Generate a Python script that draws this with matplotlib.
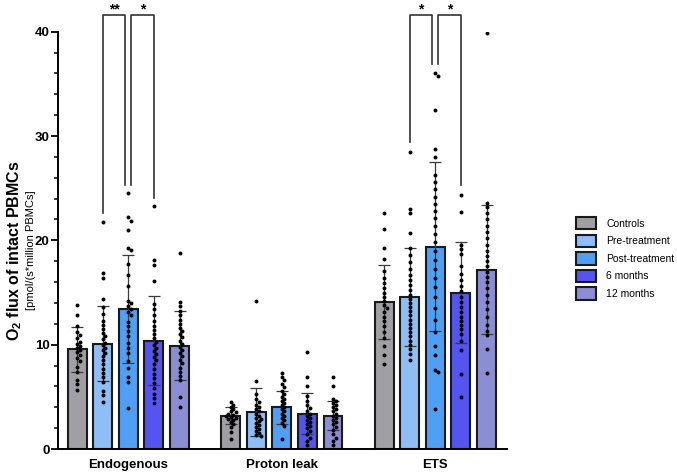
import matplotlib
matplotlib.use("Agg")
import matplotlib.pyplot as plt
from matplotlib.patches import Patch

plt.rcParams['font.family'] = ['Liberation Sans', 'DejaVu Sans']
plt.rcParams['mathtext.fontset'] = 'custom'
plt.rcParams['mathtext.bf'] = 'Liberation Sans:bold'
plt.rcParams['mathtext.rm'] = 'Liberation Sans'

groups = ["Endogenous", "Proton leak", "ETS"]
series = ["Controls", "Pre-treatment", "Post-treatment", "6 months", "12 months"]
colors = ["#a0a0a4", "#8fbdf6", "#4fa0f5", "#5454f0", "#8c8ed4"]

# bar heights (means) and SD per group, in series order
means = {
    "Endogenous": [9.55, 10.1, 13.4, 10.4, 9.9],
    "Proton leak": [3.2, 3.5, 4.0, 3.4, 3.2],
    "ETS": [14.05, 14.6, 19.4, 15.0, 17.2],
}
sds = {
    "Endogenous": [2.15, 3.6, 5.2, 4.3, 3.3],
    "Proton leak": [0.85, 2.3, 1.6, 2.0, 1.4],
    "ETS": [3.55, 4.7, 8.1, 4.8, 6.2],
}

# individual points
endo_controls = [13.8, 12.8, 11.8, 11.2, 10.9, 10.6, 10.3, 10.1, 9.9, 9.7, 9.5, 9.3, 9.0,
                 8.7, 8.4, 7.9, 7.4, 6.6, 6.2, 5.7]
endo_pre = [21.8, 16.9, 16.4, 14.4, 13.6, 12.9, 12.3, 11.9, 11.5, 11.1, 10.8, 10.5, 10.2,
            10.0, 9.7, 9.5, 9.2, 8.9, 8.5, 8.1, 7.7, 7.3, 6.9, 6.4, 5.6, 5.2, 4.5]
endo_post = [24.5, 22.2, 21.9, 21.0, 19.3, 19.1, 17.7, 16.7, 15.6, 14.2, 14.0, 13.7, 13.4,
             13.1, 12.8, 12.2, 11.8, 11.3, 10.8, 10.2, 9.7, 9.2, 8.4, 7.8, 6.9, 6.4, 3.9]
endo_6m = [23.3, 18.1, 17.6, 16.1, 13.9, 13.4, 12.8, 12.3, 11.8, 11.4, 11.0, 10.6, 10.3,
           10.0, 9.7, 9.4, 9.1, 8.8, 8.5, 8.1, 7.7, 7.2, 6.8, 6.3, 5.8, 5.3, 4.9, 4.4]
endo_12m = [18.8, 14.1, 13.7, 13.2, 12.8, 12.4, 12.0, 11.6, 11.3, 11.0, 10.7, 10.4, 10.1,
            9.8, 9.5, 9.2, 8.9, 8.5, 8.2, 7.8, 7.4, 7.0, 6.6, 5.0, 4.0]

leak_controls = [4.5, 4.2, 4.0, 3.8, 3.6, 3.5, 3.4, 3.3, 3.2, 3.1, 3.0, 2.9, 2.8, 2.6,
                 2.4, 2.1, 1.6, 1.0]
leak_pre = [14.2, 6.5, 5.3, 4.8, 4.5, 4.2, 4.0, 3.8, 3.6, 3.4, 3.2, 3.0, 2.9, 2.7, 2.5,
            2.3, 2.1, 1.9, 1.7, 1.5, 1.3, 1.2]
leak_post = [7.3, 6.9, 6.6, 6.2, 5.9, 5.6, 5.3, 5.0, 4.8, 4.6, 4.4, 4.2, 4.0, 3.8, 3.6,
             3.4, 3.2, 3.0, 2.8, 2.5, 2.2, 1.0]
leak_6m = [9.3, 6.9, 6.0, 5.1, 4.6, 4.2, 3.9, 3.6, 3.4, 3.2, 3.0, 2.8, 2.6, 2.4, 2.2,
           2.0, 1.7, 1.4, 1.1, 0.8, 0.4]
leak_12m = [6.9, 6.0, 4.8, 4.6, 4.4, 4.2, 4.0, 3.8, 3.6, 3.4, 3.2, 3.0, 2.8, 2.6, 2.4,
            2.1, 1.8, 1.4, 1.1, 0.8, 0.4]

ets_controls = [22.6, 21.1, 19.3, 18.2, 17.1, 16.4, 15.9, 15.4, 15.0, 14.6, 14.2, 13.8,
                13.5, 13.1, 12.7, 12.3, 11.8, 11.2, 10.6, 9.9, 9.0, 8.1]
ets_pre = [28.5, 23.0, 22.6, 20.7, 19.3, 18.6, 17.9, 17.3, 16.7, 16.2, 15.7, 15.2, 14.8,
           14.4, 14.0, 13.6, 13.2, 12.8, 12.4, 12.0, 11.6, 11.2, 10.8, 10.4, 10.0, 9.6,
           9.1, 8.5]
ets_post = [36.0, 35.8, 32.5, 28.8, 28.0, 26.3, 25.6, 24.9, 24.2, 23.5, 22.8, 22.1, 21.4,
            20.6, 19.8, 19.0, 18.1, 17.3, 16.4, 15.5, 14.6, 13.5, 12.4, 11.2, 9.9, 9.0,
            7.6, 7.4, 3.8]
ets_6m = [24.3, 22.7, 19.6, 19.2, 18.7, 17.5, 16.8, 16.2, 15.6, 15.1, 14.6, 14.1, 13.6,
          13.1, 12.7, 12.3, 11.9, 11.5, 11.0, 10.4, 9.45, 7.2, 4.95]
ets_12m = [39.9, 23.6, 23.2, 22.6, 22.0, 21.4, 20.8, 20.2, 19.6, 19.0, 18.5, 18.0, 17.5,
           17.0, 16.5, 16.0, 15.4, 14.8, 14.1, 13.4, 12.7, 11.9, 11.3, 10.9, 9.6, 7.3]

points = {
    "Endogenous": [endo_controls, endo_pre, endo_post, endo_6m, endo_12m],
    "Proton leak": [leak_controls, leak_pre, leak_post, leak_6m, leak_12m],
    "ETS": [ets_controls, ets_pre, ets_post, ets_6m, ets_12m],
}


def swarm(vals):
    # small horizontal offsets so close points don't overlap
    placed = []
    for v in sorted(vals, reverse=True):
        for off in [0, 0.1, -0.1, 0.2, -0.2]:
            if all(((off - po) * 25.6) ** 2 + ((v - pv) * 10.44) ** 2 >= 3.3 ** 2
                   for po, pv in placed):
                break
        placed.append((off, v))
    return placed


fig = plt.figure(figsize=(6.77, 4.74), dpi=100)
ax = fig.add_axes([58 / 677, 25 / 474, (507 - 58) / 677, (449 - 31.7) / 474])

for g, grp in enumerate(groups):
    xs = [6 * g + i for i in range(5)]
    ax.bar(xs, means[grp], width=0.74, color=colors, edgecolor="#1a1a1a",
           linewidth=1.5, zorder=2)
    ax.errorbar(xs, means[grp], yerr=sds[grp], fmt="none", ecolor="#3a3a3a",
                elinewidth=0.9, capsize=4, capthick=0.9, zorder=3)
    for i in range(5):
        pts = swarm(points[grp][i])
        ax.scatter([xs[i] + o for o, v in pts], [v for o, v in pts], s=8,
                   color="black", linewidths=0, zorder=4)


def bracket(x1, x2, y1, y2, top, label):
    ax.plot([x1, x1, x2, x2], [y1, top, top, y2], color="#333333", lw=1.2,
            clip_on=False, zorder=5)
    ax.text((x1 + x2) / 2, top + 0.15, label, ha="center", va="baseline",
            fontsize=10, fontweight="bold", clip_on=False)


bracket(1, 1.88, 22.6, 25.3, 41.6, "**")
bracket(2.12, 3, 25.3, 24.1, 41.6, "*")
bracket(13, 13.88, 29.4, 36.9, 41.6, "*")
bracket(14.12, 15, 36.9, 25.3, 41.6, "*")

ax.set_xlim(-0.75, 16.8)
ax.set_ylim(0, 40)
ax.set_yticks([0, 10, 20, 30, 40])
ax.set_yticks(range(0, 41, 2), minor=True)
ax.set_xticks([2, 8, 14])
ax.set_xticklabels(groups, fontweight="bold", fontsize=9.5)
ax.tick_params(axis="x", length=0, pad=7)
ax.tick_params(axis="y", which="major", length=5, width=1.3, labelsize=9.5, pad=1)
ax.tick_params(axis="y", which="minor", length=3, width=1.1)
for lbl in ax.get_yticklabels():
    lbl.set_fontweight("bold")
for s in ["top", "right"]:
    ax.spines[s].set_visible(False)
for s in ["left", "bottom"]:
    ax.spines[s].set_linewidth(1.4)

fig.text(15 / 677, 1 - 251 / 474, r"$\mathbf{O_2}$ flux of intact PBMCs",
         rotation=90, ha="center", va="center", fontsize=11.5, fontweight="bold")
fig.text(30.5 / 677, 1 - 250 / 474, "[pmol/(s*million PBMCs]",
         rotation=90, ha="center", va="center", fontsize=8)

handles = [Patch(facecolor=c, edgecolor="#1a1a1a", linewidth=1.5) for c in colors]
fig.legend(handles, series, loc="upper left", bbox_to_anchor=(576 / 677, 1 - 217 / 474),
           frameon=False, fontsize=7.5, handlelength=1.9, handleheight=1.45,
           labelspacing=0.5, handletextpad=1.0, borderpad=0, borderaxespad=0)

fig.savefig("out.png", dpi=100)
